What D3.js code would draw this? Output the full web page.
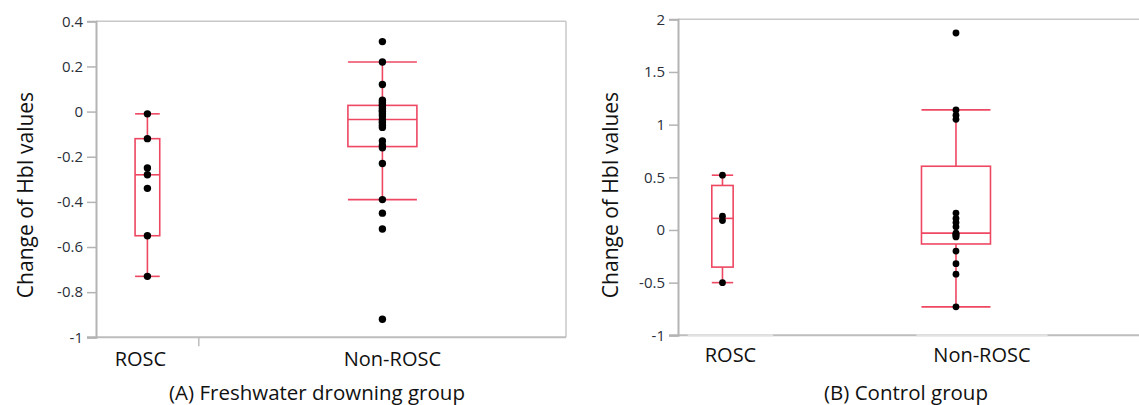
<!DOCTYPE html>
<html>
<head>
<meta charset="utf-8">
<script src="https://cdnjs.cloudflare.com/ajax/libs/d3/7.8.5/d3.min.js"></script>
<style>
  body { margin: 0; background: #fff; }
  svg { display: block; font-family: "Open Sans", sans-serif; }
</style>
</head>
<body>
<div id="chart"></div>
<script>
// DATA
var groups = ["ROSC", "Non-ROSC"];
var freshRosc = [-0.01, -0.12, -0.25, -0.28, -0.34, -0.55, -0.73];
var freshNonRosc = [0.31, 0.22, 0.12, 0.05, 0.04, 0.03, 0.025, 0.015, 0.005, 0, -0.01, -0.02,
                    -0.035, -0.045, -0.05, -0.06, -0.07, -0.13, -0.15, -0.16, -0.23, -0.39,
                    -0.45, -0.52, -0.92];
var controlRosc = [0.52, 0.13, 0.09, -0.5];
var controlNonRosc = [1.87, 1.14, 1.09, 1.05, 0.16, 0.11, 0.07, 0.03, -0.03, -0.038, -0.045,
                      -0.055, -0.066, -0.2, -0.32, -0.42, -0.73];
var freshTicks = [0.4, 0.2, 0, -0.2, -0.4, -0.6, -0.8, -1];
var controlTicks = [2, 1.5, 1, 0.5, 0, -0.5, -1];
var panelTitles = ["(A) Freshwater drowning group", "(B) Control group"];
var yTitle = "Change of HbI values";

// LAYOUT
var width = 1139;
var height = 405;
var boxColor = "#ee4762";
var frameColor = "#c8c8c8";

var panels = [
  { x0: 96, x1: 566, y0: 21.3, y1: 337.3, domain: [-1, 0.4], ticks: freshTicks,
    data: [freshRosc, freshNonRosc], title: panelTitles[0], titleX: 317, titleY: 400,
    axisTitleX: 33, catY: 366, nudge: [-7, 10], frame: true, divider: true, r: 3.7 },
  { x0: 678, x1: 1145, y0: 19.3, y1: 335.3, domain: [-1, 2], ticks: controlTicks,
    data: [controlRosc, controlNonRosc], title: panelTitles[1], titleX: 906, titleY: 400,
    axisTitleX: 618, catY: 362, nudge: [8, 26], frame: false, divider: false, r: 3.4 }
];

var svg = d3.select("#chart")
  .append("svg")
  .attr("width", width)
  .attr("height", height);

// JMP style quantile ((n+1)p)
function quant(s, p) {
  var n = s.length;
  var pos = (n + 1) * p;
  var lo = Math.floor(pos);
  if (lo < 1) return s[0];
  if (lo >= n) return s[n - 1];
  return s[lo - 1] + (pos - lo) * (s[lo] - s[lo - 1]);
}

function boxStats(values) {
  var s = values.slice().sort(d3.ascending);
  var q1 = quant(s, 0.25), med = quant(s, 0.5), q3 = quant(s, 0.75);
  var iqr = q3 - q1;
  var lo = d3.min(s.filter(function(v) { return v >= q1 - 1.5 * iqr; }));
  var hi = d3.max(s.filter(function(v) { return v <= q3 + 1.5 * iqr; }));
  return { q1: q1, med: med, q3: q3, lo: lo, hi: hi };
}

panels.forEach(function(p) {
  var g = svg.append("g");

  var yScale = d3.scaleLinear().domain(p.domain).range([p.y1, p.y0]);

  // category bands proportional to counts
  var counts = p.data.map(function(d) { return d.length; });
  var total = d3.sum(counts);
  var xScale = d3.scaleLinear().domain([0, total]).range([p.x0, p.x1]);
  var cum = [0];
  counts.forEach(function(c, i) { cum.push(cum[i] + c); });

  // frame
  g.append("line")
    .attr("x1", p.x0).attr("x2", Math.min(p.x1, width + 2))
    .attr("y1", p.y0).attr("y2", p.y0)
    .attr("stroke", frameColor).attr("stroke-width", 1.5);
  if (p.frame) {
    g.append("line")
      .attr("x1", p.x1).attr("x2", p.x1)
      .attr("y1", p.y0).attr("y2", p.y1)
      .attr("stroke", frameColor).attr("stroke-width", 1.5);
  }

  // bottom axis
  g.append("line")
    .attr("x1", p.x0 - 9).attr("x2", Math.min(p.x1, width + 2))
    .attr("y1", p.y1).attr("y2", p.y1)
    .attr("stroke", "#bdbdbd").attr("stroke-width", 2);
  if (p.divider) {
    g.append("line")
      .attr("x1", xScale(cum[1])).attr("x2", xScale(cum[1]))
      .attr("y1", p.y1).attr("y2", p.y1 + 9)
      .attr("stroke", "#bdbdbd").attr("stroke-width", 1.5);
  }

  // y axis
  var yAxis = d3.axisLeft(yScale)
    .tickValues(p.ticks)
    .tickSize(9)
    .tickPadding(4)
    .tickFormat(function(d) { return String(d); });

  var ax = g.append("g")
    .attr("transform", "translate(" + p.x0 + ",0)")
    .call(yAxis);
  ax.select(".domain").attr("stroke", "#b4b4b4").attr("stroke-width", 2);
  ax.selectAll(".tick line").attr("stroke", "#b4b4b4").attr("stroke-width", 1.5);
  ax.selectAll(".tick text")
    .attr("fill", "#2a2f3a")
    .style("font-size", "15px")
    .style("font-family", "'Open Sans', sans-serif");

  // axis title
  g.append("text")
    .attr("transform", "translate(" + p.axisTitleX + ",195) rotate(-90)")
    .attr("text-anchor", "middle")
    .style("font-size", "21px")
    .attr("fill", "#111")
    .text(yTitle);

  // boxes
  p.data.forEach(function(values, i) {
    var cx = xScale((cum[i] + cum[i + 1]) / 2);
    var bw = Math.min((xScale(cum[i + 1]) - xScale(cum[i])) * 0.24, 69);
    var st = boxStats(values);

    var bg = g.append("g")
      .attr("stroke", boxColor)
      .attr("stroke-width", 1.6)
      .attr("fill", "none");

    bg.append("rect")
      .attr("x", cx - bw / 2)
      .attr("y", yScale(st.q3))
      .attr("width", bw)
      .attr("height", yScale(st.q1) - yScale(st.q3));
    bg.append("line")
      .attr("x1", cx - bw / 2).attr("x2", cx + bw / 2)
      .attr("y1", yScale(st.med)).attr("y2", yScale(st.med));
    bg.append("line")
      .attr("x1", cx).attr("x2", cx)
      .attr("y1", yScale(st.q3)).attr("y2", yScale(st.hi));
    bg.append("line")
      .attr("x1", cx).attr("x2", cx)
      .attr("y1", yScale(st.q1)).attr("y2", yScale(st.lo));
    [st.hi, st.lo].forEach(function(v) {
      bg.append("line")
        .attr("x1", cx - bw / 2).attr("x2", cx + bw / 2)
        .attr("y1", yScale(v)).attr("y2", yScale(v));
    });

    // points
    g.selectAll("circle.g" + i)
      .data(values)
      .enter()
      .append("circle")
      .attr("class", "g" + i)
      .attr("cx", cx)
      .attr("cy", function(d) { return yScale(d); })
      .attr("r", p.r)
      .attr("fill", "#000");

    // category label
    var lbl = g.append("text")
      .attr("x", cx + p.nudge[i])
      .attr("y", p.catY)
      .attr("text-anchor", "middle")
      .style("font-size", "20px")
      .attr("fill", "#111")
      .text(groups[i]);

    // lighter axis segment under labels (control panel)
    if (!p.frame) {
      var bb = lbl.node().getBBox();
      g.append("line")
        .attr("x1", bb.x - 17).attr("x2", bb.x + bb.width + 17)
        .attr("y1", p.y1).attr("y2", p.y1)
        .attr("stroke", "#e2e2e2").attr("stroke-width", 2);
    }
  });

  // panel title
  g.append("text")
    .attr("x", p.titleX)
    .attr("y", p.titleY)
    .attr("text-anchor", "middle")
    .style("font-size", "20.5px")
    .attr("fill", "#111")
    .text(p.title);
});
</script>
</body>
</html>
